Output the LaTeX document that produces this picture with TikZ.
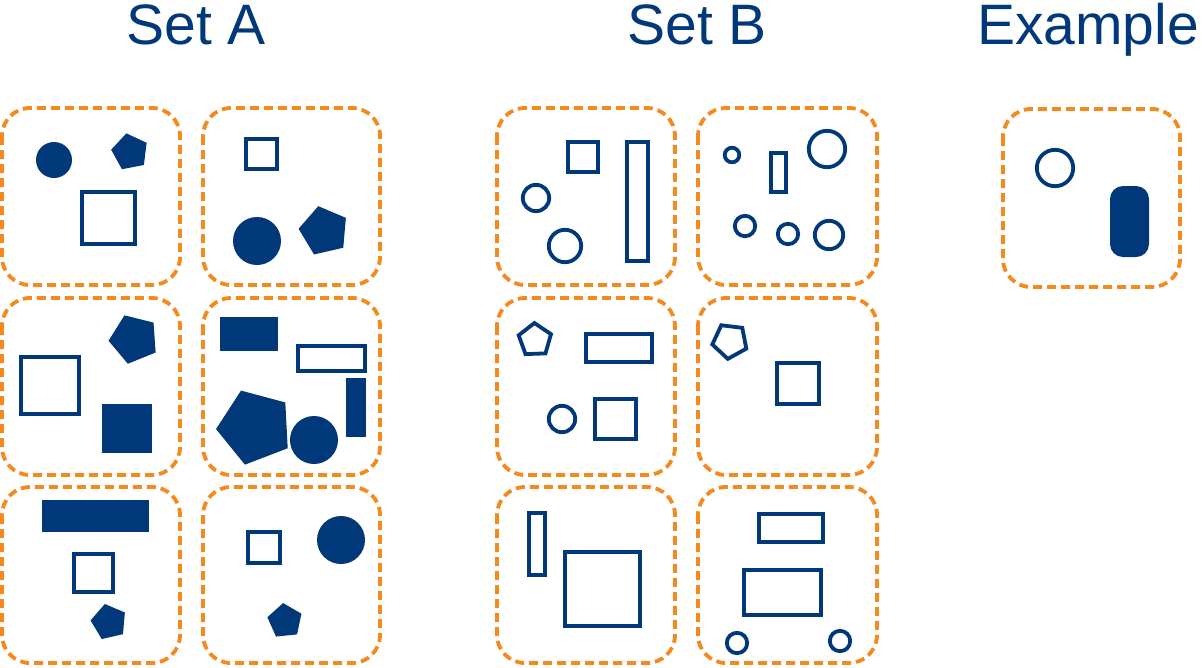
\documentclass[tikz,border=0pt]{standalone}
\usepackage{fontspec}
\setmainfont{Liberation Sans}
\usetikzlibrary{shapes.geometric}
\definecolor{setblue}{RGB}{0,56,122}
\definecolor{setorange}{RGB}{244,138,30}
\begin{document}
\begin{tikzpicture}[x=1pt,y=-1pt,
		frame/.style={draw=setorange,line width=3.8pt,dash pattern=on 9pt off 5pt,rounded corners=28pt},
		outline/.style={draw=setblue,line width=3.8pt},
		solid/.style={fill=setblue,draw=none},
		penta/.style={regular polygon,regular polygon sides=5,inner sep=0pt,outer sep=0pt},
		title/.style={text=setblue,font=\fontsize{57}{60}\selectfont,anchor=base,inner sep=0pt}]
		\useasboundingbox (0,0) rectangle (1202,667);
		\node[title] (seta) at (196,44) {Set A};
		\node[title] (setb) at (697,44) {Set B};
		\node[title] (example) at (1088,44) {Example};
		% set A
		\draw[frame] (2,108) rectangle (180,285);
		\draw[frame] (203,108) rectangle (380,285);
		\draw[frame] (2,298) rectangle (180,475);
		\draw[frame] (203,298) rectangle (380,475);
		\draw[frame] (2,487) rectangle (180,663);
		\draw[frame] (203,487) rectangle (380,663);
		\fill[solid] (54,160) circle (18pt);
		\node[penta,solid,minimum size=38pt,rotate=11] (pa1) at (130,152) {};
		\draw[outline] (81.8,191.8) rectangle (135.2,244.2);
		\draw[outline] (245.8,138.8) rectangle (277.2,169.2);
		\fill[solid] (257,241) circle (24pt);
		\node[penta,solid,minimum size=51pt,rotate=13] (pa2) at (324,231) {};
		\node[penta,solid,minimum size=51pt,rotate=22] (pa3) at (134,339) {};
		\draw[outline] (20.8,356.8) rectangle (79.2,414.2);
		\fill[solid] (102,404) rectangle (152,453);
		\fill[solid] (220,317) rectangle (278,351);
		\draw[outline] (297.8,345.8) rectangle (365.2,371.2);
		\fill[solid] (346,378) rectangle (366,437);
		\node[penta,solid,minimum size=78pt,rotate=21] (pa4) at (255,427) {};
		\fill[solid] (314,440) circle (24pt);
		\fill[solid] (42,500) rectangle (149,532);
		\draw[outline] (73.8,553.8) rectangle (113.2,592.2);
		\node[penta,solid,minimum size=37pt,rotate=13] (pa5) at (109,622) {};
		\draw[outline] (247.8,531.8) rectangle (280.2,563.2);
		\fill[solid] (341,540) circle (24pt);
		\node[penta,solid,minimum size=36pt,rotate=6] (pa6) at (285,621) {};
		% set B
		\draw[frame] (497,108) rectangle (675,285);
		\draw[frame] (698,108) rectangle (877,285);
		\draw[frame] (497,298) rectangle (675,475);
		\draw[frame] (698,298) rectangle (877,475);
		\draw[frame] (497,487) rectangle (675,663);
		\draw[frame] (698,487) rectangle (877,663);
		\draw[outline] (567.8,141.8) rectangle (598.2,172.2);
		\draw[outline] (626.8,141.8) rectangle (648.2,261.2);
		\draw[outline] (536,198) circle (13.2pt);
		\draw[outline] (565,246) circle (16.2pt);
		\draw[outline] (732,155) circle (7.3pt);
		\draw[outline] (770.8,152.8) rectangle (786.2,192.2);
		\draw[outline] (827,149) circle (18.2pt);
		\draw[outline] (745,226) circle (10.2pt);
		\draw[outline] (788,234) circle (10.2pt);
		\draw[outline] (829,235) circle (14.2pt);
		\node[penta,outline,minimum size=34pt,rotate=2] (pb1) at (535,340) {};
		\draw[outline] (585.8,333.8) rectangle (652.2,362.2);
		\draw[outline] (562,419) circle (13.2pt);
		\draw[outline] (594.8,398.8) rectangle (636.2,439.2);
		\node[penta,outline,minimum size=36pt,rotate=29] (pb2) at (730,341) {};
		\draw[outline] (776.8,362.8) rectangle (819.2,404.2);
		\draw[outline] (528.8,512.8) rectangle (545.2,575.2);
		\draw[outline] (564.8,551.8) rectangle (640.2,626.2);
		\draw[outline] (758.8,513.8) rectangle (823.2,542.2);
		\draw[outline] (743.8,569.8) rectangle (821.2,615.2);
		\draw[outline] (737,643) circle (10.2pt);
		\draw[outline] (840,641) circle (10.2pt);
		% example
		\draw[frame] (1003,109) rectangle (1180,287);
		\draw[outline] (1055,168) circle (18.2pt);
		\fill[solid,rounded corners=13pt] (1110,186) rectangle (1149,257);
	\end{tikzpicture}
\end{document}
